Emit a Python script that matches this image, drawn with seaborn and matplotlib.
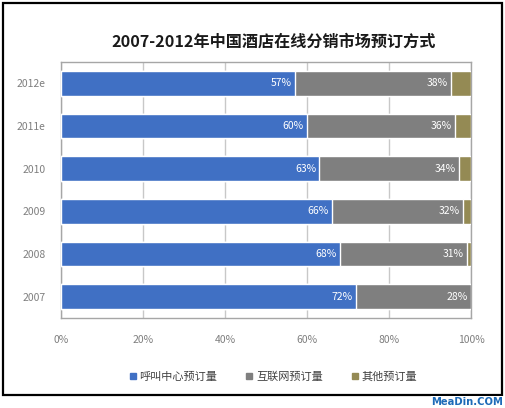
import matplotlib
matplotlib.use("Agg")
import matplotlib.pyplot as plt
from matplotlib.lines import Line2D
from matplotlib.patches import Rectangle
import seaborn as sns
import pandas as pd

# 数据
years = ["2012e", "2011e", "2010", "2009", "2008", "2007"]
call_center = [57, 60, 63, 66, 68, 72]
internet = [38, 36, 34, 32, 31, 28]
others = [5, 4, 3, 2, 1, 0]
series_names = ["呼叫中心预订量", "互联网预订量", "其他预订量"]
x_ticks = [0, 20, 40, 60, 80, 100]
x_labels = ["0%", "20%", "40%", "60%", "80%", "100%"]

colors = ["#4070C4", "#7F7F7F", "#948A54"]

sns.set_style("white")
plt.rcParams["font.family"] = ["Noto Sans CJK SC", "DejaVu Sans"]

df = pd.DataFrame({"year": years, "call": call_center, "net": internet, "other": others})
df["cum_net"] = df["call"] + df["net"]
df["cum_all"] = df["cum_net"] + df["other"]

fig = plt.figure(figsize=(5.06, 4.08), dpi=100)
ax = fig.add_axes([0.1206, 0.2206, 0.8104, 0.6274])

# 叠加画出堆积条形
for col, c in zip(["cum_all", "cum_net", "call"], colors[::-1]):
    sns.barplot(data=df, x=col, y="year", orient="h", color=c, width=0.58,
                saturation=1, ax=ax, zorder=3)

# 数值标签
for i, row in df.iterrows():
    ax.text(row["call"] - 0.8, i, f"{row['call']}%", color="white", fontsize=7.5,
            ha="right", va="center", zorder=4)
    ax.text(row["cum_net"] - 0.8, i, f"{row['net']}%", color="white", fontsize=7.5,
            ha="right", va="center", zorder=4)

ax.set_xlim(0, 100)
ax.set_ylim(5.5, -0.5)
ax.set_xticks(x_ticks)
ax.set_xticklabels(x_labels)
ax.set_xlabel("")
ax.set_ylabel("")
ax.tick_params(axis="x", length=0, pad=12, labelsize=7.5, labelcolor="#7F7F7F")
ax.tick_params(axis="y", length=0, pad=11, labelsize=7.5, labelcolor="#7F7F7F")
ax.grid(axis="x", color="#C8C8C8", lw=1, zorder=0)
ax.set_axisbelow(True)
for s in ax.spines.values():
    s.set_color("#A6A6A6")
    s.set_linewidth(1)

fig.text(0.54, 0.898, "2007-2012年中国酒店在线分销市场预订方式", ha="center", va="center",
         fontsize=11.6, fontweight="bold", color="#1A1A1A")

handles = [Line2D([], [], marker="s", ls="none", color=c, markersize=4.5) for c in colors]
fig.legend(handles, series_names, loc="center", bbox_to_anchor=(0.54, 0.076), ncol=3,
           frameon=False, fontsize=8, handlelength=0.6, handletextpad=0.3,
           columnspacing=2.6, labelcolor="#404040")

# 外框
fig.patches.append(Rectangle((0.006, 0.032), 0.986, 0.961, transform=fig.transFigure,
                             fill=False, edgecolor="black", lw=1.6))
fig.text(0.995, 0.015, "MeaDin.COM", ha="right", va="center", fontsize=7.2,
         fontweight="bold", color="#1E6BB8", family="DejaVu Sans",
         bbox=dict(facecolor="white", edgecolor="none", pad=0.5))

fig.savefig("out.png", dpi=100)
